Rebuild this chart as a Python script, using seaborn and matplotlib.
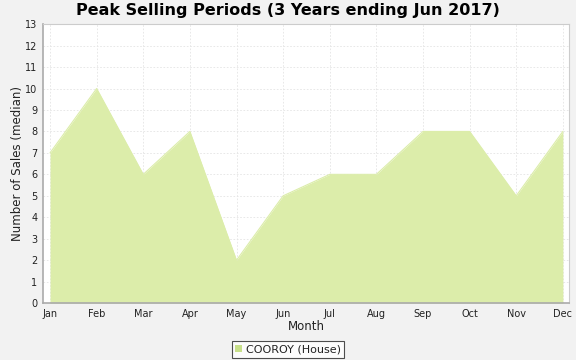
import matplotlib
matplotlib.use("Agg")
import matplotlib.pyplot as plt
import seaborn as sns
import pandas as pd
from matplotlib.patches import Patch

months = ["Jan", "Feb", "Mar", "Apr", "May", "Jun", "Jul", "Aug", "Sep", "Oct", "Nov", "Dec"]
sales = [7, 10, 6, 8, 2, 5, 6, 6, 8, 8, 5, 8]
series_name = "COOROY (House)"

df = pd.DataFrame({"pos": range(len(months)), "sales": sales})

sns.set_style("white")
plt.rcParams["font.family"] = ["DejaVu Sans"]
plt.rcParams["text.color"] = "black"
plt.rcParams["axes.labelcolor"] = "black"
plt.rcParams["xtick.color"] = "black"
plt.rcParams["ytick.color"] = "black"
fill_color = "#dcedaa"

fig = plt.figure(figsize=(5.76, 3.6), dpi=100, facecolor="#f2f2f2")
ax = fig.add_axes([0.0747, 0.158, 0.913, 0.775])
ax.set_facecolor("white")

sns.lineplot(data=df, x="pos", y="sales", ax=ax, color=fill_color, linewidth=0.8)
ax.fill_between(df["pos"], 0, df["sales"], color=fill_color, linewidth=0, zorder=2)

ax.set_xlim(-0.15, 11.13)
ax.set_ylim(0, 13)
ax.set_xticks(range(len(months)))
ax.set_xticklabels(months)
ax.set_yticks(range(0, 14))
ax.tick_params(axis="both", labelsize=7, length=2, color="#999999", pad=2,
               labelcolor="#222222")
ax.tick_params(axis="both", which="both", direction="out")

ax.grid(True, color="#e4e4e4", linestyle=(0, (2, 2)), linewidth=0.6)
ax.set_axisbelow(True)

for side in ["top", "right"]:
    ax.spines[side].set_color("#cccccc")
    ax.spines[side].set_linewidth(0.8)
for side in ["left", "bottom"]:
    ax.spines[side].set_color("#aaaaaa")
    ax.spines[side].set_linewidth(1.2)

ax.set_xlabel("Month", fontsize=8.5, labelpad=1, color="#222222")
ax.set_ylabel("Number of Sales (median)", fontsize=8.5, labelpad=1, color="#222222")
fig.suptitle("Peak Selling Periods (3 Years ending Jun 2017)", fontsize=11.5,
             fontweight="bold", y=0.993, color="black")

handle = Patch(facecolor="#c8e08a", edgecolor="none", label=series_name)
leg = fig.legend(handles=[handle], loc="center", bbox_to_anchor=(0.5, 0.03),
                 fontsize=8, frameon=True, fancybox=False, handlelength=0.6,
                 handleheight=0.6, handletextpad=0.4, borderpad=0.3)
leg.get_frame().set_edgecolor("#222222")
leg.get_frame().set_linewidth(0.8)
leg.get_frame().set_facecolor("white")
for t in leg.get_texts():
    t.set_color("#222222")

fig.savefig("out.png", dpi=100, facecolor=fig.get_facecolor())
